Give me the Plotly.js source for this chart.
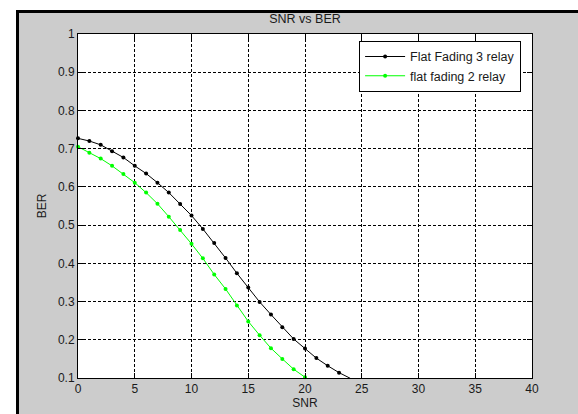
<!DOCTYPE html>
<html>
<head>
<meta charset="utf-8">
<script src="https://cdn.plot.ly/plotly-3.0.1.min.js"></script>
<style>
  html, body { margin: 0; padding: 0; background: #ffffff; width: 578px; height: 414px; overflow: hidden; }
  #frame { position: absolute; left: 16px; top: 10px; width: 562px; height: 404px;
           border-left: 3px solid #000; border-top: 3px solid #000; box-sizing: border-box; background: #cccccc; }
  #chart { width: 559px; height: 401px; }
</style>
</head>
<body>
<div id="frame"><div id="chart"></div></div>
<script>
// Data
const snr3 = [0,1,2,3,4,5,6,7,8,9,10,11,12,13,14,15,16,17,18,19,20,21,22,23,24];
const ber3 = [0.727,0.720,0.710,0.693,0.677,0.655,0.635,0.611,0.585,0.555,0.525,0.490,0.453,0.414,0.374,0.337,0.299,0.266,0.233,0.202,0.177,0.152,0.132,0.114,0.099];
const snr2 = [0,1,2,3,4,5,6,7,8,9,10,11,12,13,14,15,16,17,18,19,20];
const ber2 = [0.705,0.689,0.674,0.655,0.634,0.611,0.585,0.556,0.522,0.487,0.451,0.413,0.371,0.333,0.290,0.248,0.212,0.178,0.150,0.123,0.102];
const name3 = 'Flat Fading 3 relay';
const name2 = 'flat fading 2 relay';
const xTickVals = [0,5,10,15,20,25,30,35,40];
const yTickVals = [0.1,0.2,0.3,0.4,0.5,0.6,0.7,0.8,0.9,1];
const yTickText = ['0.1','0.2','0.3','0.4','0.5','0.6','0.7','0.8','0.9','1'];

const font = {family: 'Liberation Sans, Arial, sans-serif', size: 12, color: '#1a1a1a'};

const traces = [
  {x: snr3, y: ber3, name: name3, type: 'scatter', mode: 'lines+markers', cliponaxis: false,
   line: {color: '#000000', width: 1}, marker: {color: '#000000', size: 4}},
  {x: snr2, y: ber2, name: name2, type: 'scatter', mode: 'lines+markers', cliponaxis: false,
   line: {color: '#00ff00', width: 1}, marker: {color: '#00ff00', size: 4}}
];

const axisCommon = {
  showline: true, linecolor: '#000', linewidth: 1, mirror: 'ticks',
  ticks: 'inside', ticklen: 5, tickcolor: '#000', tickwidth: 1,
  showgrid: true, gridcolor: '#000', gridwidth: 1, griddash: '3px,2px',
  zeroline: false, tickfont: font, automargin: false
};

const layout = {
  width: 559, height: 401,
  paper_bgcolor: '#cccccc', plot_bgcolor: '#ffffff',
  margin: {l: 59, r: 46, t: 21, b: 36},
  font: font,
  title: {text: 'SNR vs BER', font: Object.assign({}, font, {size: 12.5}), x: (59 + 454/2) / 559, xanchor: 'center',
          y: 1 - 6/401, yref: 'container', yanchor: 'middle'},
  xaxis: Object.assign({}, axisCommon, {
    range: [0, 40], tickvals: xTickVals, ticktext: xTickVals.map(String),
    title: {text: 'SNR', font: font, standoff: 2}
  }),
  yaxis: Object.assign({}, axisCommon, {
    range: [0.1, 1], tickvals: yTickVals, ticktext: yTickText,
    title: {text: 'BER', font: font, standoff: 8}
  }),
  showlegend: true,
  legend: {x: 0.976, xanchor: 'right', y: 0.98, yanchor: 'top',
           bgcolor: '#ffffff', bordercolor: '#000', borderwidth: 1,
           font: Object.assign({}, font, {size: 12.5}), tracegroupgap: 0, itemwidth: 40}
};

Plotly.newPlot('chart', traces, layout, {displayModeBar: false, staticPlot: true});
</script>
</body>
</html>
